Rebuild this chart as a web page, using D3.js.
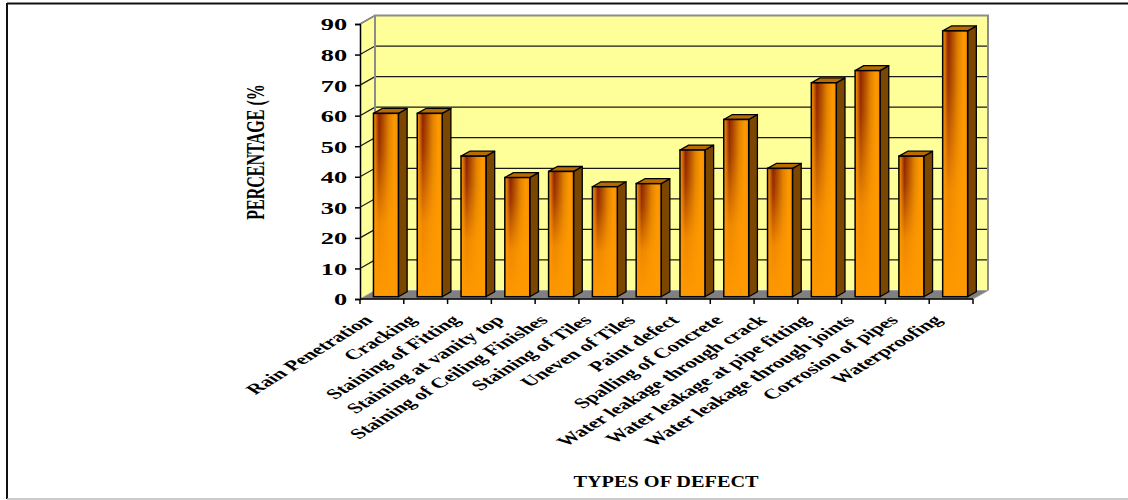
<!DOCTYPE html>
<html>
<head>
<meta charset="utf-8">
<script src="https://cdn.jsdelivr.net/npm/d3@7"></script>
<style>
  body { margin: 0; background: #fff; }
  text { font-family: "Liberation Serif", "Times New Roman", serif; font-weight: bold; fill: #000; }
</style>
</head>
<body>
<div id="chart-area"></div>
<script>
var width = 1128,
    height = 500;

// data
var categories = ["Rain Penetration", "Cracking", "Staining of Fitting", "Staining at vanity top",
    "Staining of Ceiling Finishes", "Staining of Tiles", "Uneven of Tiles", "Paint defect",
    "Spalling of Concrete", "Water leakage through crack", "Water leakage at pipe fitting",
    "Water leakage through joints", "Corrosion of pipes", "Waterproofing"];
var values = [60, 60, 46, 39, 41, 36, 37, 48, 58, 42, 70, 74, 46, 87];
var yTicks = [0, 10, 20, 30, 40, 50, 60, 70, 80, 90];
var yTitle = "PERCENTAGE (%";
var xTitle = "TYPES OF DEFECT";

var svg = d3.select("#chart-area").append("svg")
    .attr("width", width)
    .attr("height", height);

// outer frame
svg.append("line").attr("x1", 7).attr("x2", width).attr("y1", 3.5).attr("y2", 3.5)
    .attr("stroke", "#111").attr("stroke-width", 2);
svg.append("line").attr("x1", 7).attr("x2", 7).attr("y1", 3).attr("y2", 499)
    .attr("stroke", "#111").attr("stroke-width", 2);
svg.append("line").attr("x1", 7).attr("x2", width).attr("y1", 499).attr("y2", 499)
    .attr("stroke", "#bbb").attr("stroke-width", 1.5);

var x = d3.scaleBand()
    .domain(categories)
    .range([360, 973])
    .paddingInner(0.43)
    .paddingOuter(0.215);

var y = d3.scaleLinear()
    .domain([0, 90])
    .range([299, 24]);

// 3d depth of the plot box
var dX = 15, dY = -8.5;
// bars sit a bit behind the front plane and are shallower than the box
var bOff = 0.27, bDep = 0.58;

var defs = svg.append("defs");
var gFront = defs.append("linearGradient").attr("id", "barFront")
    .attr("x1", "0%").attr("x2", "100%").attr("y1", "0%").attr("y2", "0%");
[["0%", "#ff9900"], ["7%", "#e07a00"], ["22%", "#8c2200"], ["40%", "#b04c00"],
 ["62%", "#e08200"], ["85%", "#ff9900"], ["100%", "#f08c00"]].forEach(function(s) {
    gFront.append("stop").attr("offset", s[0]).attr("stop-color", s[1]);
});
var gFade = defs.append("linearGradient").attr("id", "barFade")
    .attr("x1", "0%").attr("x2", "0%").attr("y1", "0%").attr("y2", "100%");
[["0%", 0], ["20%", 0.15], ["60%", 0.85], ["100%", 1]].forEach(function(s) {
    gFade.append("stop").attr("offset", s[0]).attr("stop-color", "#ff9900").attr("stop-opacity", s[1]);
});

var x0 = x.range()[0], x1 = x.range()[1];
var yTop = y(90), yBot = y(0);

// back wall
svg.append("rect")
    .attr("x", x0 + dX).attr("y", yTop + dY)
    .attr("width", x1 - x0).attr("height", yBot - yTop)
    .attr("fill", "#ffff99");
// side wall
svg.append("polygon")
    .attr("points", [[x0, yTop], [x0 + dX, yTop + dY], [x0 + dX, yBot + dY], [x0, yBot]].join(" "))
    .attr("fill", "#ffff99");

// gridlines
svg.selectAll(".grid")
    .data(yTicks.slice(1))
    .enter().append("polyline")
    .attr("class", "grid")
    .attr("points", function(d) {
        return [[x0, y(d)], [x0 + dX, y(d) + dY], [x1 + dX, y(d) + dY]].join(" ");
    })
    .attr("fill", "none")
    .attr("stroke", "#1a1a1a")
    .attr("stroke-width", 1.2);

// wall frame
svg.append("polyline")
    .attr("points", [[x0 + dX, yBot + dY], [x0 + dX, yTop + dY], [x1 + dX, yTop + dY], [x1 + dX, yBot + dY]].join(" "))
    .attr("fill", "none").attr("stroke", "#8c8c8c").attr("stroke-width", 2);
svg.append("line")
    .attr("x1", x0).attr("y1", yTop).attr("x2", x0 + dX).attr("y2", yTop + dY)
    .attr("stroke", "#8c8c8c").attr("stroke-width", 1.5);

// floor
svg.append("polygon")
    .attr("points", [[x0, yBot], [x1, yBot], [x1 + dX, yBot + dY], [x0 + dX, yBot + dY]].join(" "))
    .attr("fill", "#808080")
    .attr("stroke", "#a0a0a0")
    .attr("stroke-width", 1);

// bars
var ox = dX * bOff, oy = dY * bOff;
var ddx = dX * bDep, ddy = dY * bDep;
var bw = x.bandwidth();

var bars = svg.selectAll(".bar")
    .data(values)
    .enter().append("g")
    .attr("class", "bar");

bars.append("polygon")
    .attr("points", function(d, i) {
        var l = x(categories[i]) + ox + bw, t = y(d) + oy, b = y(0) + oy;
        return [[l, t], [l + ddx, t + ddy], [l + ddx, b + ddy], [l, b]].join(" ");
    })
    .attr("fill", "#7a4600")
    .attr("stroke", "#000").attr("stroke-width", 1.3).attr("stroke-linejoin", "round");

bars.append("polygon")
    .attr("points", function(d, i) {
        var l = x(categories[i]) + ox, t = y(d) + oy;
        return [[l, t], [l + ddx, t + ddy], [l + bw + ddx, t + ddy], [l + bw, t]].join(" ");
    })
    .attr("fill", "#b86c00")
    .attr("stroke", "#000").attr("stroke-width", 1.3).attr("stroke-linejoin", "round");

bars.append("rect")
    .attr("x", function(d, i) { return x(categories[i]) + ox; })
    .attr("y", function(d) { return y(d) + oy; })
    .attr("width", bw)
    .attr("height", function(d) { return y(0) - y(d); })
    .attr("fill", "url(#barFront)");

bars.append("rect")
    .attr("x", function(d, i) { return x(categories[i]) + ox; })
    .attr("y", function(d) { return y(d) + oy; })
    .attr("width", bw)
    .attr("height", function(d) { return y(0) - y(d); })
    .attr("fill", "url(#barFade)")
    .attr("stroke", "#000").attr("stroke-width", 1.5);

// y axis
var yAxis = svg.append("g")
    .attr("transform", "translate(" + x0 + ",0)")
    .call(d3.axisLeft(y).tickValues(yTicks).tickSize(5).tickPadding(3).tickFormat(d3.format("d")));
yAxis.select(".domain").attr("stroke", "#000").attr("stroke-width", 1.5);
yAxis.selectAll(".tick line").attr("stroke", "#000").attr("stroke-width", 1.5);
yAxis.selectAll("text")
    .attr("font-family", null)
    .attr("font-size", 16.5)
    .attr("fill", "#000")
    .attr("dy", "0.36em")
    .attr("transform", "scale(1.6,1)");

// x axis line and boundary ticks
svg.append("line")
    .attr("x1", x0).attr("x2", x1).attr("y1", yBot).attr("y2", yBot)
    .attr("stroke", "#000").attr("stroke-width", 1.5);
var gap = (x.step() - bw) / 2;
var bounds = categories.map(function(c) { return x(c) - gap; }).concat([x1]);
svg.selectAll(".xtick")
    .data(bounds)
    .enter().append("line")
    .attr("class", "xtick")
    .attr("x1", function(d) { return d; }).attr("x2", function(d) { return d; })
    .attr("y1", yBot).attr("y2", yBot + 5)
    .attr("stroke", "#000").attr("stroke-width", 1.5);

// category labels (slanted, squashed like the source)
svg.selectAll(".xlabel")
    .data(categories)
    .enter().append("text")
    .attr("class", "xlabel")
    .attr("text-anchor", "end")
    .attr("font-size", 23)
    .attr("transform", function(d) {
        return "translate(" + (x(d) + bw / 2 - 8) + "," + 321 + ") scale(1,0.625) rotate(-45)";
    })
    .text(function(d) { return d; });

// titles
svg.append("text")
    .attr("text-anchor", "middle")
    .attr("font-size", 25.7)
    .attr("dy", "0.35em")
    .attr("transform", "translate(255,152) rotate(-90) scale(0.625,1)")
    .text(yTitle);

svg.append("text")
    .attr("text-anchor", "middle")
    .attr("font-size", 17.5)
    .attr("transform", "translate(666,487) scale(1.16,1)")
    .text(xTitle);
</script>
</body>
</html>
